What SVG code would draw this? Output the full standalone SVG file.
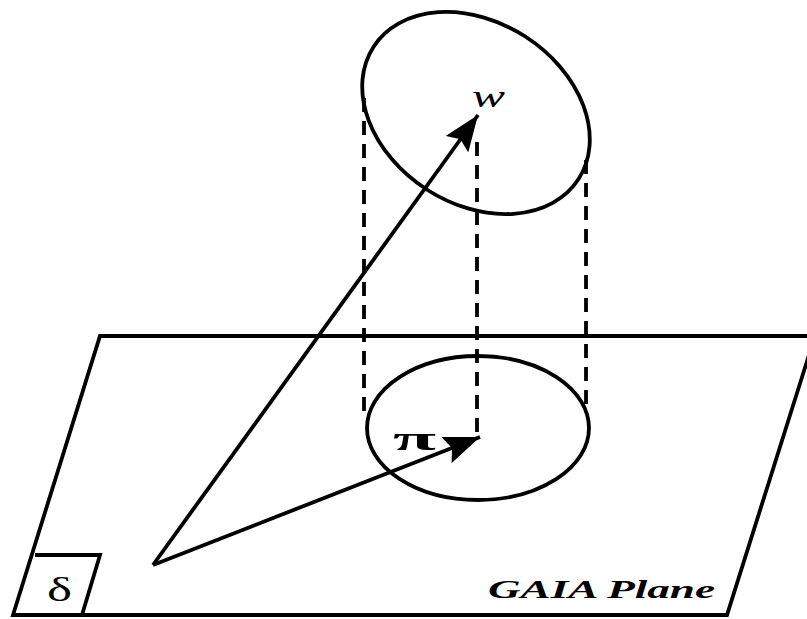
<svg xmlns="http://www.w3.org/2000/svg" width="807" height="619" viewBox="0 0 807 619">
<style>
.ln{fill:none;stroke:#000;stroke-width:3.8;stroke-linejoin:miter}
.dash{fill:none;stroke:#000;stroke-width:3.8;stroke-dasharray:14 9}
.lbl{font-family:"Liberation Serif","Times New Roman",serif;fill:#000}
</style>
<defs>
<marker id="ah" markerUnits="userSpaceOnUse" markerWidth="38" markerHeight="28" refX="36" refY="14" orient="auto">
<path d="M0,0 L36,14 L0,28 L6,14 z" fill="#000"/>
</marker>
</defs>
<rect width="807" height="619" fill="#fff"/>
<g id="plane">
<path class="ln" d="M820,336 L100,336 L13,615 L727,615 L820,320"/>
<text class="lbl" x="488" y="598" font-size="26" font-style="italic" font-weight="bold" textLength="227" lengthAdjust="spacingAndGlyphs">GAIA Plane</text>
</g>
<g id="delta">
<path class="ln" d="M35,555 L100,555 L82,615"/>
<text class="lbl" x="47" y="601" font-size="34" textLength="25" lengthAdjust="spacingAndGlyphs">δ</text>
</g>
<g id="upper-ellipse">
<ellipse class="ln" cx="476" cy="113" rx="122" ry="91" transform="rotate(32.8 476 113)"/>
<text class="lbl" x="472" y="107" font-size="32" font-style="italic" textLength="33" lengthAdjust="spacingAndGlyphs">w</text>
</g>
<g id="lower-ellipse">
<ellipse class="ln" cx="478" cy="428" rx="111" ry="72"/>
<text class="lbl" x="393" y="450" font-size="34" font-weight="bold" textLength="43" lengthAdjust="spacingAndGlyphs">π</text>
</g>
<g id="connectors">
<line class="dash" x1="364" y1="98" x2="364" y2="416"/>
<line class="dash" x1="477" y1="142" x2="477" y2="434"/>
<line class="dash" x1="586" y1="160" x2="586" y2="406"/>
<line class="ln" x1="153" y1="565" x2="478" y2="115" marker-end="url(#ah)"/>
<line class="ln" x1="153" y1="565" x2="480" y2="437" marker-end="url(#ah)"/>
</g>
</svg>
